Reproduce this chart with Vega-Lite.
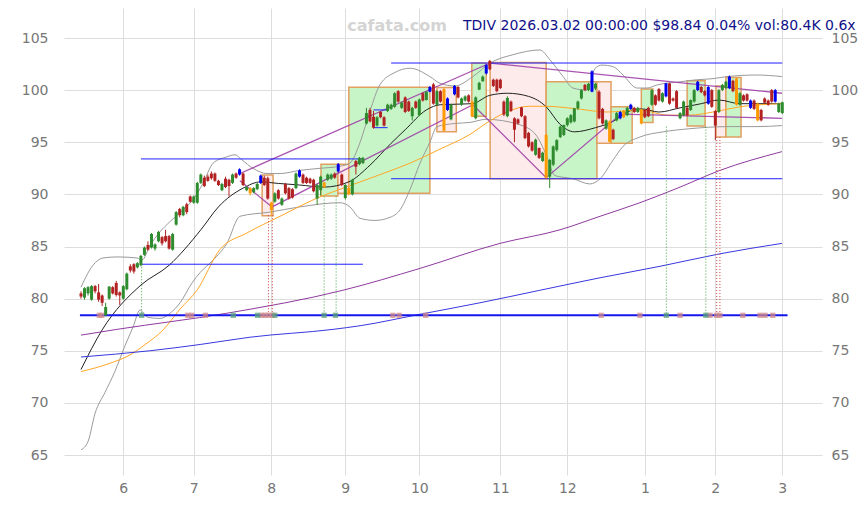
{
"$schema":"https://vega.github.io/schema/vega-lite/v6.json",
"width":758,"height":467,
"autosize":{"type":"none"},
"padding":{"left":64,"top":8,"right":45,"bottom":30},
"background":"white",
"config":{"view":{"stroke":null},"font":"DejaVu Sans","scale":{"continuousPadding":0}},
"resolve":{"axis":{"x":"independent","y":"independent"}},
"datasets":{
"boxes":[
{"t1":51.4,"t2":54.5,"p1":87.95,"p2":91.85,"c":"p"},
{"t1":68.1,"t2":72.9,"p1":89.85,"p2":92.9,"c":"g"},
{"t1":72.9,"t2":76.0,"p1":90.1,"p2":92.9,"c":"p"},
{"t1":76.0,"t2":99.0,"p1":90.1,"p2":100.27,"c":"g"},
{"t1":101.0,"t2":106.5,"p1":96.0,"p2":100.25,"c":"p"},
{"t1":110.9,"t2":115.0,"p1":97.5,"p2":102.6,"c":"g"},
{"t1":116.1,"t2":132.0,"p1":91.5,"p2":102.65,"c":"p"},
{"t1":132.0,"t2":146.4,"p1":91.5,"p2":100.8,"c":"g"},
{"t1":146.4,"t2":150.4,"p1":94.9,"p2":100.8,"c":"p"},
{"t1":150.4,"t2":156.4,"p1":94.9,"p2":98.4,"c":"g"},
{"t1":159.0,"t2":162.3,"p1":96.9,"p2":100.1,"c":"g"},
{"t1":172.0,"t2":177.1,"p1":96.55,"p2":100.9,"c":"g"},
{"t1":180.2,"t2":183.0,"p1":95.5,"p2":100.4,"c":"p"},
{"t1":183.0,"t2":187.3,"p1":95.5,"p2":101.2,"c":"g"}
],
"ma":[
{"s":"ub","t":0,"v":81.1},{"s":"ub","t":3.4,"v":83.2},{"s":"ub","t":6.2,"v":83.9},{"s":"ub","t":10.2,"v":84.0},{"s":"ub","t":15.9,"v":83.9},{"s":"ub","t":17.3,"v":83.7},{"s":"ub","t":19.6,"v":85.1},{"s":"ub","t":22.4,"v":86.4},{"s":"ub","t":25.3,"v":87.4},{"s":"ub","t":28.9,"v":88.5},{"s":"ub","t":31.8,"v":89.5},{"s":"ub","t":34.6,"v":91.05},{"s":"ub","t":37.5,"v":93.0},{"s":"ub","t":41.4,"v":93.6},{"s":"ub","t":43.7,"v":93.8},{"s":"ub","t":45.7,"v":93.3},{"s":"ub","t":48.8,"v":92.5},{"s":"ub","t":52.8,"v":92.0},{"s":"ub","t":56.5,"v":92.0},{"s":"ub","t":62.1,"v":92.3},{"s":"ub","t":67.8,"v":92.5},{"s":"ub","t":73.5,"v":92.7},{"s":"ub","t":76.3,"v":93.0},{"s":"ub","t":79.2,"v":95.0},{"s":"ub","t":82,"v":98.0},{"s":"ub","t":84.8,"v":100.5},{"s":"ub","t":89.1,"v":101.7},{"s":"ub","t":93.4,"v":102.1},{"s":"ub","t":99,"v":101.3},{"s":"ub","t":101.9,"v":100.65},{"s":"ub","t":106.1,"v":100.4},{"s":"ub","t":111.2,"v":101.3},{"s":"ub","t":116.1,"v":102.6},{"s":"ub","t":122.6,"v":103.4},{"s":"ub","t":130.2,"v":103.85},{"s":"ub","t":133.1,"v":102.9},{"s":"ub","t":136.8,"v":101.3},{"s":"ub","t":139.6,"v":100.2},{"s":"ub","t":143.6,"v":100.0},{"s":"ub","t":145.9,"v":102.1},{"s":"ub","t":147.8,"v":102.4},{"s":"ub","t":151,"v":102.25},{"s":"ub","t":153.8,"v":101.45},{"s":"ub","t":157.8,"v":100.2},{"s":"ub","t":160.6,"v":100.2},{"s":"ub","t":163.5,"v":100.5},{"s":"ub","t":170,"v":100.8},{"s":"ub","t":174.9,"v":101.0},{"s":"ub","t":179.3,"v":101.1},{"s":"ub","t":183.3,"v":101.3},{"s":"ub","t":191.8,"v":101.45},{"s":"ub","t":198.9,"v":101.3},
{"s":"lb","t":0,"v":65.5},{"s":"lb","t":2,"v":66.3},{"s":"lb","t":4,"v":69.0},{"s":"lb","t":6.8,"v":71.0},{"s":"lb","t":9.6,"v":73.0},{"s":"lb","t":12.5,"v":75.5},{"s":"lb","t":14.8,"v":77.3},{"s":"lb","t":16.7,"v":78.9},{"s":"lb","t":19,"v":78.2},{"s":"lb","t":22.4,"v":78.1},{"s":"lb","t":25.3,"v":78.6},{"s":"lb","t":28.1,"v":79.6},{"s":"lb","t":31.5,"v":81.5},{"s":"lb","t":33.8,"v":82.5},{"s":"lb","t":37.5,"v":83.7},{"s":"lb","t":41.4,"v":85.3},{"s":"lb","t":45.1,"v":87.9},{"s":"lb","t":53.6,"v":88.3},{"s":"lb","t":62.1,"v":88.8},{"s":"lb","t":73.5,"v":89.2},{"s":"lb","t":76.3,"v":88.8},{"s":"lb","t":79.2,"v":87.7},{"s":"lb","t":83.4,"v":87.5},{"s":"lb","t":87.7,"v":87.8},{"s":"lb","t":90.5,"v":88.5},{"s":"lb","t":93.4,"v":90.5},{"s":"lb","t":96.2,"v":93.0},{"s":"lb","t":99,"v":95.0},{"s":"lb","t":101,"v":96.5},{"s":"lb","t":106.1,"v":96.8},{"s":"lb","t":110.4,"v":96.9},{"s":"lb","t":114.9,"v":97.2},{"s":"lb","t":124.3,"v":96.7},{"s":"lb","t":129.1,"v":95.7},{"s":"lb","t":132,"v":93.8},{"s":"lb","t":134.5,"v":91.8},{"s":"lb","t":139.6,"v":91.5},{"s":"lb","t":144.4,"v":91.0},{"s":"lb","t":147.3,"v":91.5},{"s":"lb","t":151,"v":93.3},{"s":"lb","t":153.8,"v":94.6},{"s":"lb","t":158.6,"v":95.5},{"s":"lb","t":165.2,"v":96.0},{"s":"lb","t":172.8,"v":96.3},{"s":"lb","t":183.3,"v":96.5},{"s":"lb","t":191.8,"v":96.5},{"s":"lb","t":198.9,"v":96.6},
{"s":"mid","t":0,"v":73.2},{"s":"mid","t":6,"v":77.0},{"s":"mid","t":17,"v":81.3},{"s":"mid","t":25,"v":83.2},{"s":"mid","t":34,"v":86.6},{"s":"mid","t":39,"v":88.8},{"s":"mid","t":46,"v":90.6},{"s":"mid","t":51,"v":91.2},{"s":"mid","t":56,"v":91.05},{"s":"mid","t":62,"v":90.9},{"s":"mid","t":69,"v":90.7},{"s":"mid","t":76,"v":91.2},{"s":"mid","t":82,"v":92.8},{"s":"mid","t":88,"v":94.9},{"s":"mid","t":92,"v":96.2},{"s":"mid","t":98,"v":98.1},{"s":"mid","t":102,"v":98.6},{"s":"mid","t":111,"v":98.7},{"s":"mid","t":116,"v":99.5},{"s":"mid","t":121,"v":99.7},{"s":"mid","t":127,"v":99.4},{"s":"mid","t":132,"v":98.4},{"s":"mid","t":136,"v":96.7},{"s":"mid","t":140,"v":96.0},{"s":"mid","t":146,"v":96.4},{"s":"mid","t":151,"v":97.0},{"s":"mid","t":155,"v":97.9},{"s":"mid","t":159,"v":98.2},{"s":"mid","t":164,"v":97.9},{"s":"mid","t":170,"v":98.3},{"s":"mid","t":176,"v":98.7},{"s":"mid","t":181,"v":99.05},{"s":"mid","t":187,"v":98.7},{"s":"mid","t":199,"v":98.7},
{"s":"ma50","t":0,"v":73.0},{"s":"ma50","t":8.2,"v":73.8},{"s":"ma50","t":13.9,"v":74.6},{"s":"ma50","t":18.2,"v":75.6},{"s":"ma50","t":23.3,"v":77.0},{"s":"ma50","t":28.1,"v":79.0},{"s":"ma50","t":32.9,"v":80.8},{"s":"ma50","t":39.4,"v":84.7},{"s":"ma50","t":47.1,"v":86.3},{"s":"ma50","t":56.5,"v":87.9},{"s":"ma50","t":66.7,"v":89.6},{"s":"ma50","t":76,"v":90.8},{"s":"ma50","t":85.7,"v":92.0},{"s":"ma50","t":93.4,"v":93.0},{"s":"ma50","t":101.6,"v":94.3},{"s":"ma50","t":110.1,"v":95.7},{"s":"ma50","t":115.8,"v":97.0},{"s":"ma50","t":121.5,"v":98.0},{"s":"ma50","t":127.1,"v":98.45},{"s":"ma50","t":132,"v":98.45},{"s":"ma50","t":139.6,"v":98.25},{"s":"ma50","t":149.3,"v":97.9},{"s":"ma50","t":158.6,"v":98.1},{"s":"ma50","t":166.3,"v":97.6},{"s":"ma50","t":172.8,"v":97.6},{"s":"ma50","t":179.3,"v":97.9},{"s":"ma50","t":187,"v":98.4},{"s":"ma50","t":198.9,"v":98.7},
{"s":"ma100","t":0,"v":76.5},{"s":"ma100","t":10.2,"v":77.05},{"s":"ma100","t":41.4,"v":78.6},{"s":"ma100","t":74.3,"v":80.8},{"s":"ma100","t":96.2,"v":82.9},{"s":"ma100","t":118.9,"v":85.3},{"s":"ma100","t":135.9,"v":86.6},{"s":"ma100","t":147.3,"v":87.9},{"s":"ma100","t":158.6,"v":89.2},{"s":"ma100","t":170,"v":90.7},{"s":"ma100","t":181.3,"v":92.3},{"s":"ma100","t":198.9,"v":94.1},
{"s":"ma200","t":0,"v":74.4},{"s":"ma200","t":19.6,"v":75.0},{"s":"ma200","t":33.8,"v":75.6},{"s":"ma200","t":48,"v":76.3},{"s":"ma200","t":71.5,"v":77.05},{"s":"ma200","t":79.2,"v":77.4},{"s":"ma200","t":96.2,"v":78.5},{"s":"ma200","t":113.2,"v":79.6},{"s":"ma200","t":130.2,"v":80.8},{"s":"ma200","t":147.3,"v":82.0},{"s":"ma200","t":164.3,"v":83.1},{"s":"ma200","t":181.3,"v":84.3},{"s":"ma200","t":198.9,"v":85.3}
],
"trend":[
{"s":"u1","t":45.1,"v":92.0},{"s":"u1","t":116.1,"v":102.6},
{"s":"u2","t":116.1,"v":102.6},{"s":"u2","t":198.9,"v":99.7},
{"s":"l1","t":45.1,"v":91.3},{"s":"l1","t":54.2,"v":88.8},{"s":"l1","t":111.2,"v":98.6},{"s":"l1","t":132,"v":91.6},{"s":"l1","t":153.2,"v":97.7},{"s":"l1","t":198.9,"v":97.3}
],
"hl":[
{"t1":17,"t2":80,"p":93.4},{"t1":17,"t2":80,"p":83.3},{"t1":88,"t2":199,"p":102.6},{"t1":88,"t2":199,"p":91.5},{"t1":83,"t2":87,"p":98.1},{"t1":83,"t2":87,"p":96.4}
],
"base":[{"t1":-0.3,"t2":200.5,"p":78.4}],
"dots":[
{"t":17.2,"p1":83.3,"p2":78.4,"c":"g"},{"t":53.2,"p1":88.0,"p2":78.4,"c":"r"},{"t":54.3,"p1":88.0,"p2":78.4,"c":"r"},{"t":69,"p1":89.8,"p2":78.4,"c":"g"},{"t":72.4,"p1":89.8,"p2":78.4,"c":"g"},{"t":166.1,"p1":96.5,"p2":78.4,"c":"g"},{"t":177.3,"p1":96.5,"p2":78.4,"c":"g"},{"t":180.4,"p1":95.5,"p2":78.4,"c":"r"},{"t":181.3,"p1":95.5,"p2":78.4,"c":"r"}
],
"marks":[
{"t":5.2,"p":78.4,"c":"r"},{"t":5.9,"p":78.4,"c":"r"},{"t":30.3,"p":78.4,"c":"r"},{"t":31.4,"p":78.4,"c":"r"},{"t":35.3,"p":78.4,"c":"r"},{"t":51.3,"p":78.4,"c":"r"},{"t":52.2,"p":78.4,"c":"r"},{"t":53.2,"p":78.4,"c":"r"},{"t":54.3,"p":78.4,"c":"r"},{"t":88.5,"p":78.4,"c":"r"},{"t":90.3,"p":78.4,"c":"r"},{"t":97.8,"p":78.4,"c":"r"},{"t":147.6,"p":78.4,"c":"r"},{"t":158.6,"p":78.4,"c":"r"},{"t":170,"p":78.4,"c":"r"},{"t":178.5,"p":78.4,"c":"r"},{"t":180.4,"p":78.4,"c":"r"},{"t":181.3,"p":78.4,"c":"r"},{"t":187.8,"p":78.4,"c":"r"},{"t":192.7,"p":78.4,"c":"r"},{"t":194.1,"p":78.4,"c":"r"},{"t":196.3,"p":78.4,"c":"r"},
{"t":17.2,"p":78.4,"c":"g"},{"t":43.2,"p":78.4,"c":"g"},{"t":50.1,"p":78.4,"c":"g"},{"t":55,"p":78.4,"c":"g"},{"t":69,"p":78.4,"c":"g"},{"t":72.2,"p":78.4,"c":"g"},{"t":166.1,"p":78.4,"c":"g"},{"t":177.3,"p":78.4,"c":"g"}
],
"candles":[
{"t":0,"o":80.5,"h":80.7,"l":80.0,"c":80.2,"k":"dn"},
{"t":1,"o":80.1,"h":81.1,"l":79.9,"c":81.0,"k":"up"},
{"t":2,"o":80.5,"h":81.2,"l":80.3,"c":81.1,"k":"up"},
{"t":3,"o":79.9,"h":81.3,"l":79.8,"c":81.2,"k":"up"},
{"t":4,"o":81.2,"h":81.3,"l":80.5,"c":80.7,"k":"dn"},
{"t":5,"o":80.6,"h":81.4,"l":79.7,"c":79.9,"k":"dn"},
{"t":6,"o":80.3,"h":80.4,"l":79.3,"c":79.6,"k":"dn"},
{"t":7,"o":78.4,"h":79.6,"l":78.3,"c":79.2,"k":"up"},
{"t":8,"o":80.0,"h":81.2,"l":79.9,"c":81.15,"k":"up"},
{"t":9,"o":81.1,"h":81.2,"l":80.4,"c":80.5,"k":"dn"},
{"t":10,"o":81.5,"h":81.7,"l":80.2,"c":80.35,"k":"dn"},
{"t":11,"o":80.6,"h":80.7,"l":79.4,"c":80.3,"k":"dn"},
{"t":12,"o":80.0,"h":81.3,"l":79.9,"c":81.2,"k":"up"},
{"t":13,"o":80.9,"h":82.5,"l":80.8,"c":82.4,"k":"up"},
{"t":14,"o":83.1,"h":83.3,"l":82.5,"c":82.7,"k":"dn"},
{"t":15,"o":83.3,"h":83.4,"l":82.4,"c":82.6,"k":"dn"},
{"t":16,"o":83.0,"h":83.5,"l":82.9,"c":83.4,"k":"up"},
{"t":17,"o":83.2,"h":84.2,"l":83.1,"c":84.1,"k":"up"},
{"t":18,"o":84.2,"h":85.0,"l":84.1,"c":84.9,"k":"up"},
{"t":19,"o":85.15,"h":85.5,"l":84.6,"c":84.7,"k":"dn"},
{"t":20,"o":84.9,"h":86.3,"l":84.8,"c":86.2,"k":"up"},
{"t":21,"o":84.8,"h":85.3,"l":84.6,"c":85.2,"k":"up"},
{"t":22,"o":85.5,"h":86.5,"l":85.4,"c":86.4,"k":"up"},
{"t":23,"o":85.9,"h":86.0,"l":85.1,"c":85.3,"k":"dn"},
{"t":24,"o":86.0,"h":86.6,"l":85.4,"c":85.5,"k":"dn"},
{"t":25,"o":86.0,"h":86.1,"l":84.7,"c":84.8,"k":"dn"},
{"t":26,"o":84.7,"h":86.3,"l":84.6,"c":86.2,"k":"up"},
{"t":27,"o":87.1,"h":88.4,"l":87.0,"c":88.3,"k":"up"},
{"t":28,"o":88.6,"h":88.7,"l":87.8,"c":88.0,"k":"dn"},
{"t":29,"o":88.0,"h":88.9,"l":87.9,"c":88.8,"k":"up"},
{"t":30,"o":89.05,"h":89.2,"l":88.1,"c":88.3,"k":"dn"},
{"t":31,"o":89.8,"h":89.9,"l":89.2,"c":89.3,"k":"dn"},
{"t":32,"o":89.2,"h":89.9,"l":89.1,"c":89.8,"k":"up"},
{"t":33,"o":89.2,"h":91.2,"l":89.1,"c":91.1,"k":"up"},
{"t":34,"o":91.1,"h":92.0,"l":91.0,"c":91.9,"k":"up"},
{"t":35,"o":91.6,"h":91.8,"l":90.7,"c":90.8,"k":"dn"},
{"t":36,"o":91.7,"h":91.9,"l":91.2,"c":91.3,"k":"dn"},
{"t":37,"o":92.0,"h":92.2,"l":91.4,"c":91.55,"k":"dn"},
{"t":38,"o":92.0,"h":92.1,"l":91.2,"c":91.3,"k":"dn"},
{"t":39,"o":91.3,"h":91.4,"l":90.8,"c":90.9,"k":"dn"},
{"t":40,"o":90.4,"h":91.1,"l":90.3,"c":91.0,"k":"up"},
{"t":41,"o":91.5,"h":91.7,"l":90.6,"c":90.7,"k":"dn"},
{"t":42,"o":91.4,"h":91.5,"l":89.8,"c":90.8,"k":"dn"},
{"t":43,"o":91.1,"h":92.0,"l":91.0,"c":91.9,"k":"up"},
{"t":44,"o":92.0,"h":92.1,"l":91.5,"c":91.6,"k":"dn"},
{"t":45,"o":91.9,"h":92.5,"l":91.8,"c":92.4,"k":"bl"},
{"t":46,"o":92.0,"h":92.1,"l":90.8,"c":90.9,"k":"dn"},
{"t":47,"o":90.4,"h":90.8,"l":90.3,"c":90.7,"k":"up"},
{"t":48,"o":90.6,"h":90.7,"l":89.9,"c":90.1,"k":"or"},
{"t":49,"o":90.2,"h":90.7,"l":90.1,"c":90.6,"k":"up"},
{"t":50,"o":90.5,"h":91.1,"l":90.4,"c":91.0,"k":"up"},
{"t":51,"o":91.1,"h":91.9,"l":91.0,"c":91.8,"k":"bl"},
{"t":52,"o":91.6,"h":91.8,"l":90.8,"c":90.9,"k":"dn"},
{"t":53,"o":91.55,"h":91.7,"l":89.5,"c":89.6,"k":"dn"},
{"t":54,"o":89.2,"h":89.3,"l":88.0,"c":88.5,"k":"or"},
{"t":55,"o":89.3,"h":90.2,"l":89.2,"c":90.1,"k":"up"},
{"t":56,"o":90.4,"h":90.5,"l":89.5,"c":89.6,"k":"dn"},
{"t":57,"o":89.0,"h":89.7,"l":88.9,"c":89.6,"k":"up"},
{"t":58,"o":91.0,"h":91.1,"l":90.0,"c":90.1,"k":"dn"},
{"t":59,"o":90.6,"h":90.7,"l":89.5,"c":89.6,"k":"dn"},
{"t":60,"o":90.5,"h":90.6,"l":89.6,"c":89.7,"k":"dn"},
{"t":61,"o":90.6,"h":92.1,"l":90.5,"c":92.0,"k":"up"},
{"t":62,"o":91.7,"h":92.4,"l":91.6,"c":92.3,"k":"bl"},
{"t":63,"o":91.9,"h":92.0,"l":91.0,"c":91.1,"k":"dn"},
{"t":64,"o":91.6,"h":91.7,"l":91.0,"c":91.1,"k":"dn"},
{"t":65,"o":91.5,"h":91.6,"l":91.0,"c":91.1,"k":"dn"},
{"t":66,"o":91.4,"h":91.5,"l":90.2,"c":90.3,"k":"dn"},
{"t":67,"o":89.6,"h":91.0,"l":89.0,"c":90.9,"k":"up"},
{"t":68,"o":90.4,"h":91.8,"l":89.9,"c":91.7,"k":"up"},
{"t":69,"o":91.15,"h":91.2,"l":90.6,"c":90.7,"k":"or"},
{"t":70,"o":91.4,"h":92.0,"l":91.3,"c":91.9,"k":"up"},
{"t":71,"o":91.5,"h":92.0,"l":91.4,"c":91.9,"k":"up"},
{"t":72,"o":92.0,"h":92.1,"l":91.5,"c":91.6,"k":"dn"},
{"t":73,"o":92.2,"h":93.0,"l":92.1,"c":92.9,"k":"bl"},
{"t":74,"o":91.9,"h":92.0,"l":90.8,"c":90.9,"k":"dn"},
{"t":75,"o":89.65,"h":91.0,"l":89.5,"c":90.9,"k":"up"},
{"t":76,"o":90.6,"h":90.7,"l":89.9,"c":90.0,"k":"or"},
{"t":77,"o":90.0,"h":91.5,"l":89.9,"c":91.4,"k":"up"},
{"t":78,"o":93.2,"h":93.3,"l":91.9,"c":92.65,"k":"dn"},
{"t":79,"o":92.9,"h":93.6,"l":92.8,"c":93.5,"k":"up"},
{"t":80,"o":93.0,"h":93.6,"l":92.9,"c":93.5,"k":"up"},
{"t":81,"o":96.8,"h":98.3,"l":96.7,"c":97.8,"k":"up"},
{"t":82,"o":98.1,"h":98.3,"l":96.9,"c":97.0,"k":"dn"},
{"t":83,"o":97.45,"h":98.0,"l":96.3,"c":96.4,"k":"dn"},
{"t":84,"o":96.6,"h":97.5,"l":96.5,"c":97.4,"k":"up"},
{"t":85,"o":97.9,"h":98.0,"l":97.3,"c":97.4,"k":"dn"},
{"t":86,"o":97.4,"h":97.5,"l":96.5,"c":96.6,"k":"dn"},
{"t":87,"o":98.0,"h":98.7,"l":97.9,"c":98.6,"k":"up"},
{"t":88,"o":98.2,"h":98.7,"l":98.1,"c":98.6,"k":"up"},
{"t":89,"o":98.4,"h":99.8,"l":98.3,"c":99.7,"k":"up"},
{"t":90,"o":99.9,"h":100.0,"l":98.8,"c":98.9,"k":"dn"},
{"t":91,"o":98.3,"h":98.9,"l":98.2,"c":98.8,"k":"up"},
{"t":92,"o":99.3,"h":99.4,"l":97.8,"c":97.9,"k":"dn"},
{"t":93,"o":98.9,"h":99.0,"l":97.9,"c":98.0,"k":"dn"},
{"t":94,"o":97.5,"h":98.4,"l":97.1,"c":98.3,"k":"up"},
{"t":95,"o":98.9,"h":99.0,"l":98.2,"c":98.3,"k":"dn"},
{"t":96,"o":97.6,"h":99.2,"l":97.5,"c":99.1,"k":"up"},
{"t":97,"o":99.7,"h":99.8,"l":98.9,"c":99.0,"k":"dn"},
{"t":98,"o":99.05,"h":99.9,"l":99.0,"c":99.85,"k":"up"},
{"t":99,"o":99.85,"h":100.4,"l":99.8,"c":100.3,"k":"bl"},
{"t":100,"o":100.55,"h":100.7,"l":98.6,"c":98.7,"k":"dn"},
{"t":101,"o":98.6,"h":100.0,"l":98.5,"c":99.9,"k":"up"},
{"t":102,"o":99.9,"h":100.0,"l":98.8,"c":98.9,"k":"dn"},
{"t":103,"o":100.1,"h":100.2,"l":96.0,"c":96.1,"k":"or"},
{"t":104,"o":98.1,"h":99.3,"l":98.0,"c":99.2,"k":"bl"},
{"t":105,"o":97.2,"h":98.7,"l":97.1,"c":98.6,"k":"up"},
{"t":106,"o":99.6,"h":100.5,"l":99.5,"c":100.4,"k":"bl"},
{"t":107,"o":100.3,"h":100.4,"l":99.2,"c":99.3,"k":"dn"},
{"t":108,"o":98.6,"h":99.3,"l":98.5,"c":99.2,"k":"up"},
{"t":109,"o":99.0,"h":99.5,"l":98.9,"c":99.4,"k":"up"},
{"t":110,"o":99.5,"h":99.6,"l":98.8,"c":98.9,"k":"dn"},
{"t":111,"o":98.9,"h":99.0,"l":97.4,"c":97.5,"k":"or"},
{"t":112,"o":97.3,"h":99.4,"l":97.2,"c":99.3,"k":"up"},
{"t":113,"o":100.05,"h":100.8,"l":100.0,"c":100.7,"k":"up"},
{"t":114,"o":100.85,"h":101.4,"l":100.8,"c":101.3,"k":"up"},
{"t":115,"o":101.6,"h":102.5,"l":101.5,"c":102.4,"k":"bl"},
{"t":116,"o":102.8,"h":102.9,"l":101.9,"c":102.0,"k":"dn"},
{"t":117,"o":101.0,"h":101.1,"l":100.3,"c":100.4,"k":"dn"},
{"t":118,"o":101.0,"h":101.1,"l":99.8,"c":99.9,"k":"dn"},
{"t":119,"o":101.0,"h":101.1,"l":100.1,"c":100.2,"k":"dn"},
{"t":120,"o":98.9,"h":99.0,"l":97.5,"c":97.65,"k":"dn"},
{"t":121,"o":97.5,"h":99.4,"l":97.4,"c":99.25,"k":"up"},
{"t":122,"o":98.9,"h":99.0,"l":97.9,"c":98.0,"k":"dn"},
{"t":123,"o":97.3,"h":97.4,"l":95.0,"c":96.2,"k":"dn"},
{"t":124,"o":97.2,"h":97.3,"l":96.7,"c":96.8,"k":"dn"},
{"t":125,"o":98.35,"h":98.4,"l":97.4,"c":97.5,"k":"dn"},
{"t":126,"o":97.5,"h":97.6,"l":95.3,"c":95.4,"k":"dn"},
{"t":127,"o":95.9,"h":96.0,"l":94.5,"c":94.6,"k":"dn"},
{"t":128,"o":95.0,"h":95.1,"l":94.1,"c":94.2,"k":"dn"},
{"t":129,"o":93.8,"h":95.35,"l":93.7,"c":95.25,"k":"up"},
{"t":130,"o":94.45,"h":94.5,"l":93.4,"c":93.5,"k":"dn"},
{"t":131,"o":93.2,"h":94.1,"l":93.1,"c":94.0,"k":"up"},
{"t":132,"o":95.7,"h":95.8,"l":91.5,"c":91.6,"k":"or"},
{"t":133,"o":91.7,"h":93.4,"l":90.6,"c":93.3,"k":"up"},
{"t":134,"o":92.85,"h":94.7,"l":92.7,"c":94.6,"k":"up"},
{"t":135,"o":94.25,"h":95.3,"l":94.1,"c":95.2,"k":"up"},
{"t":136,"o":95.5,"h":96.6,"l":95.4,"c":96.5,"k":"up"},
{"t":137,"o":95.7,"h":96.7,"l":95.6,"c":96.65,"k":"up"},
{"t":138,"o":96.65,"h":97.4,"l":96.5,"c":97.3,"k":"up"},
{"t":139,"o":96.9,"h":97.7,"l":96.8,"c":97.6,"k":"up"},
{"t":140,"o":97.0,"h":98.3,"l":96.9,"c":98.25,"k":"up"},
{"t":141,"o":98.25,"h":99.0,"l":98.1,"c":98.9,"k":"up"},
{"t":142,"o":99.2,"h":100.1,"l":99.1,"c":100.0,"k":"up"},
{"t":143,"o":100.5,"h":100.6,"l":99.9,"c":100.0,"k":"dn"},
{"t":144,"o":100.0,"h":100.7,"l":99.9,"c":100.6,"k":"up"},
{"t":145,"o":99.85,"h":101.9,"l":99.8,"c":101.8,"k":"bl"},
{"t":146,"o":100.15,"h":100.7,"l":100.0,"c":100.6,"k":"up"},
{"t":147,"o":99.85,"h":100.0,"l":97.2,"c":97.3,"k":"dn"},
{"t":148,"o":98.2,"h":98.3,"l":96.7,"c":96.8,"k":"dn"},
{"t":149,"o":96.3,"h":97.2,"l":96.2,"c":97.1,"k":"up"},
{"t":150,"o":97.0,"h":97.1,"l":95.0,"c":95.05,"k":"or"},
{"t":151,"o":96.2,"h":96.3,"l":95.2,"c":95.3,"k":"dn"},
{"t":152,"o":97.1,"h":97.9,"l":97.0,"c":97.8,"k":"up"},
{"t":153,"o":97.3,"h":98.0,"l":97.2,"c":97.9,"k":"bl"},
{"t":154,"o":98.0,"h":98.1,"l":97.3,"c":97.4,"k":"or"},
{"t":155,"o":97.6,"h":98.4,"l":97.5,"c":98.3,"k":"up"},
{"t":156,"o":98.2,"h":98.7,"l":98.1,"c":98.6,"k":"bl"},
{"t":157,"o":98.3,"h":98.4,"l":97.8,"c":97.9,"k":"dn"},
{"t":158,"o":97.9,"h":98.4,"l":97.8,"c":98.3,"k":"up"},
{"t":159,"o":98.1,"h":98.2,"l":96.7,"c":96.8,"k":"or"},
{"t":160,"o":98.1,"h":98.2,"l":97.3,"c":97.4,"k":"dn"},
{"t":161,"o":98.3,"h":98.4,"l":97.4,"c":97.5,"k":"dn"},
{"t":162,"o":98.6,"h":100.1,"l":98.5,"c":100.0,"k":"up"},
{"t":163,"o":99.5,"h":99.6,"l":98.5,"c":98.6,"k":"dn"},
{"t":164,"o":100.1,"h":100.2,"l":98.9,"c":99.0,"k":"dn"},
{"t":165,"o":98.9,"h":99.8,"l":98.8,"c":99.7,"k":"up"},
{"t":166,"o":99.4,"h":100.7,"l":99.3,"c":100.65,"k":"bl"},
{"t":167,"o":100.65,"h":100.7,"l":98.6,"c":98.7,"k":"dn"},
{"t":168,"o":99.2,"h":99.3,"l":98.9,"c":99.0,"k":"dn"},
{"t":169,"o":99.9,"h":100.0,"l":98.2,"c":98.3,"k":"dn"},
{"t":170,"o":97.3,"h":97.9,"l":97.2,"c":97.8,"k":"up"},
{"t":171,"o":97.6,"h":99.0,"l":97.5,"c":98.9,"k":"up"},
{"t":172,"o":98.3,"h":98.4,"l":97.5,"c":97.6,"k":"dn"},
{"t":173,"o":98.1,"h":99.1,"l":98.0,"c":99.05,"k":"up"},
{"t":174,"o":98.9,"h":100.1,"l":98.8,"c":100.0,"k":"up"},
{"t":175,"o":100.0,"h":100.9,"l":99.9,"c":100.8,"k":"bl"},
{"t":176,"o":100.3,"h":100.4,"l":99.7,"c":99.8,"k":"dn"},
{"t":177,"o":99.9,"h":100.0,"l":99.4,"c":99.5,"k":"dn"},
{"t":178,"o":98.7,"h":100.4,"l":98.6,"c":100.3,"k":"bl"},
{"t":179,"o":100.0,"h":100.1,"l":98.3,"c":98.4,"k":"dn"},
{"t":180,"o":98.0,"h":98.1,"l":95.2,"c":96.6,"k":"dn"},
{"t":181,"o":97.9,"h":100.1,"l":97.8,"c":100.0,"k":"up"},
{"t":182,"o":100.0,"h":100.6,"l":99.9,"c":100.5,"k":"up"},
{"t":183,"o":100.2,"h":100.9,"l":100.1,"c":100.8,"k":"up"},
{"t":184,"o":100.2,"h":101.4,"l":100.1,"c":101.3,"k":"bl"},
{"t":185,"o":100.9,"h":101.0,"l":99.8,"c":99.9,"k":"dn"},
{"t":186,"o":101.1,"h":101.2,"l":98.5,"c":98.6,"k":"or"},
{"t":187,"o":98.6,"h":99.8,"l":98.5,"c":99.7,"k":"up"},
{"t":188,"o":99.5,"h":99.6,"l":98.9,"c":99.0,"k":"dn"},
{"t":189,"o":99.6,"h":99.7,"l":98.9,"c":99.0,"k":"dn"},
{"t":190,"o":98.3,"h":99.1,"l":98.2,"c":99.0,"k":"bl"},
{"t":191,"o":99.0,"h":99.1,"l":98.1,"c":98.2,"k":"dn"},
{"t":192,"o":98.7,"h":98.8,"l":97.0,"c":97.1,"k":"or"},
{"t":193,"o":98.1,"h":98.2,"l":97.0,"c":97.1,"k":"dn"},
{"t":194,"o":99.2,"h":99.3,"l":98.7,"c":98.8,"k":"dn"},
{"t":195,"o":99.0,"h":99.1,"l":98.5,"c":98.6,"k":"dn"},
{"t":196,"o":100.0,"h":100.1,"l":98.8,"c":98.9,"k":"dn"},
{"t":197,"o":98.9,"h":100.1,"l":98.8,"c":100.0,"k":"bl"},
{"t":198,"o":97.9,"h":98.8,"l":97.8,"c":98.7,"k":"up"},
{"t":199,"o":97.8,"h":98.9,"l":97.7,"c":98.84,"k":"up"}
],
"texts":[{"t":89.7,"p":106.15,"s":"cafata.com"}],
"title":[{"t":108.4,"p":106.15,"s":"TDIV 2026.03.02 00:00:00 $98.84 0.04% vol:80.4K 0.6x"}]
},
"layer":[
{"data":{"name":"boxes"},
 "mark":{"type":"rect","stroke":"#e0a060","strokeWidth":1.5},
 "encoding":{
  "x":{"field":"t1","type":"quantitative","scale":{"domain":[-4.824,210.27],"nice":false,"zero":false,"padding":0},
       "axis":{"values":[12,32,54,75,96,119,138,160,180,199],"labelExpr":"['6','7','8','9','10','11','12','1','2','3'][indexof([12,32,54,75,96,119,138,160,180,199], datum.value)]","grid":true,"gridColor":"#dddddd","ticks":false,"domain":false,"labelColor":"#777777","labelFontSize":14,"labelFont":"DejaVu Sans","labelPadding":6,"title":null}},
  "x2":{"field":"t2"},
  "y":{"field":"p1","type":"quantitative","scale":{"domain":[63.082,107.878],"nice":false,"zero":false,"padding":0},
       "axis":{"orient":"left","values":[65,70,75,80,85,90,95,100,105],"format":"d","grid":true,"gridColor":"#dddddd","ticks":false,"domain":false,"labelColor":"#777777","labelFontSize":14,"labelFont":"DejaVu Sans","labelPadding":16,"title":null}},
  "y2":{"field":"p2"},
  "fill":{"condition":{"test":"datum.c=='g'","value":"#c8f5c8"},"value":"#fdeaea"}
 }},
{"data":{"name":"ma"},
 "mark":{"type":"line","strokeWidth":1,"interpolate":"monotone"},
 "encoding":{
  "x":{"field":"t","type":"quantitative","scale":{"domain":[-4.824,210.27],"nice":false,"zero":false,"padding":0},"axis":null},
  "y":{"field":"v","type":"quantitative","scale":{"domain":[63.082,107.878],"nice":false,"zero":false,"padding":0},"axis":null},
  "color":{"field":"s","type":"nominal","scale":{"domain":["ub","lb","mid","ma50","ma100","ma200"],"range":["#9a9a9a","#9a9a9a","#222222","#ffa726","#8e3a9e","#3838e0"]},"legend":null}
 }},
{"data":{"name":"trend"},
 "mark":{"type":"line","strokeWidth":1.3,"color":"#a040a8","opacity":0.9},
 "encoding":{
  "x":{"field":"t","type":"quantitative","scale":{"domain":[-4.824,210.27],"nice":false,"zero":false,"padding":0},"axis":null},
  "y":{"field":"v","type":"quantitative","scale":{"domain":[63.082,107.878],"nice":false,"zero":false,"padding":0},"axis":null},
  "detail":{"field":"s"}
 }},
{"data":{"name":"hl"},
 "mark":{"type":"rule","color":"#2020ff","strokeWidth":1},
 "encoding":{
  "x":{"field":"t1","type":"quantitative","scale":{"domain":[-4.824,210.27],"nice":false,"zero":false,"padding":0},"axis":null},
  "x2":{"field":"t2"},
  "y":{"field":"p","type":"quantitative","scale":{"domain":[63.082,107.878],"nice":false,"zero":false,"padding":0},"axis":null}
 }},
{"data":{"name":"dots"},
 "mark":{"type":"rule","strokeWidth":1,"strokeDash":[1,2]},
 "encoding":{
  "x":{"field":"t","type":"quantitative","scale":{"domain":[-4.824,210.27],"nice":false,"zero":false,"padding":0},"axis":null},
  "y":{"field":"p1","type":"quantitative","scale":{"domain":[63.082,107.878],"nice":false,"zero":false,"padding":0},"axis":null},
  "y2":{"field":"p2"},
  "color":{"condition":{"test":"datum.c=='g'","value":"#40a040"},"value":"#d04040"}
 }},
{"data":{"name":"base"},
 "mark":{"type":"rule","color":"#1515ee","strokeWidth":2},
 "encoding":{
  "x":{"field":"t1","type":"quantitative","scale":{"domain":[-4.824,210.27],"nice":false,"zero":false,"padding":0},"axis":null},
  "x2":{"field":"t2"},
  "y":{"field":"p","type":"quantitative","scale":{"domain":[63.082,107.878],"nice":false,"zero":false,"padding":0},
       "axis":{"orient":"right","values":[65,70,75,80,85,90,95,100,105],"format":"d","grid":false,"ticks":false,"domain":false,"labelColor":"#777777","labelFontSize":14,"labelFont":"DejaVu Sans","labelPadding":9,"title":null}}
 }},
{"data":{"name":"marks"},
 "mark":{"type":"square","size":28,"opacity":0.75},
 "encoding":{
  "x":{"field":"t","type":"quantitative","scale":{"domain":[-4.824,210.27],"nice":false,"zero":false,"padding":0},"axis":null},
  "y":{"field":"p","type":"quantitative","scale":{"domain":[63.082,107.878],"nice":false,"zero":false,"padding":0},"axis":null},
  "color":{"condition":{"test":"datum.c=='g'","value":"#5aa07a"},"value":"#d08888"}
 }},
{"data":{"name":"candles"},
 "mark":{"type":"rule","strokeWidth":1},
 "encoding":{
  "x":{"field":"t","type":"quantitative","scale":{"domain":[-4.824,210.27],"nice":false,"zero":false,"padding":0},"axis":null},
  "y":{"field":"l","type":"quantitative","scale":{"domain":[63.082,107.878],"nice":false,"zero":false,"padding":0},"axis":null},
  "y2":{"field":"h"},
  "color":{"condition":[{"test":"datum.k=='up'","value":"#2e8b2e"},{"test":"datum.k=='bl'","value":"#0000ee"},{"test":"datum.k=='or'","value":"#ff9900"}],"value":"#b22222"}
 }},
{"data":{"name":"candles"},
 "mark":{"type":"bar","width":3},
 "encoding":{
  "x":{"field":"t","type":"quantitative","scale":{"domain":[-4.824,210.27],"nice":false,"zero":false,"padding":0},"axis":null},
  "y":{"field":"o","type":"quantitative","scale":{"domain":[63.082,107.878],"nice":false,"zero":false,"padding":0},"axis":null},
  "y2":{"field":"c"},
  "color":{"condition":[{"test":"datum.k=='up'","value":"#2e8b2e"},{"test":"datum.k=='bl'","value":"#0000ee"},{"test":"datum.k=='or'","value":"#ff9900"}],"value":"#b22222"}
 }},
{"data":{"name":"texts"},
 "mark":{"type":"text","font":"DejaVu Sans","fontSize":16,"fontWeight":"bold","color":"#d4d4d4","align":"center","baseline":"middle"},
 "encoding":{
  "x":{"field":"t","type":"quantitative","scale":{"domain":[-4.824,210.27],"nice":false,"zero":false,"padding":0},"axis":null},
  "y":{"field":"p","type":"quantitative","scale":{"domain":[63.082,107.878],"nice":false,"zero":false,"padding":0},"axis":null},
  "text":{"field":"s"}
 }},
{"data":{"name":"title"},
 "mark":{"type":"text","font":"DejaVu Sans","fontSize":14,"color":"#10108a","align":"left","baseline":"middle"},
 "encoding":{
  "x":{"field":"t","type":"quantitative","scale":{"domain":[-4.824,210.27],"nice":false,"zero":false,"padding":0},"axis":null},
  "y":{"field":"p","type":"quantitative","scale":{"domain":[63.082,107.878],"nice":false,"zero":false,"padding":0},"axis":null},
  "text":{"field":"s"}
 }}
]
}
